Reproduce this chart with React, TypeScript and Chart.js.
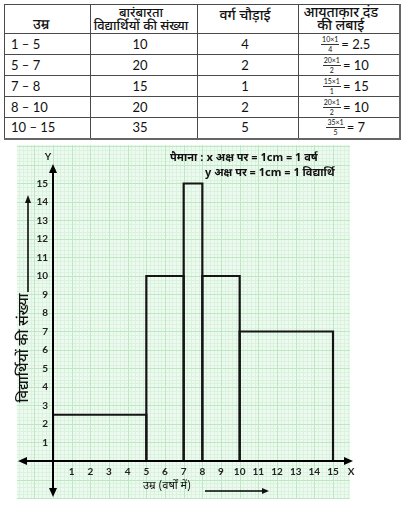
import React, { useEffect, useRef } from "react";
import { Chart, registerables } from "chart.js";

Chart.register(...registerables);

// ---- data ----
const ageClasses = ["1 – 5", "5 – 7", "7 – 8", "8 – 10", "10 – 15"];
const studentCounts = [10, 20, 15, 20, 35];
const classWidths = [4, 2, 1, 2, 5];
const barLengths = [2.5, 10, 15, 10, 7];
// bar edges as drawn on the graph paper
const barStarts = [0, 5, 7, 8, 10];
const barEnds = [5, 7, 8, 10, 15];
const xTickValues = [1, 2, 3, 4, 5, 6, 7, 8, 9, 10, 11, 12, 13, 14, 15];
const yTickValues = [1, 2, 3, 4, 5, 6, 7, 8, 9, 10, 11, 12, 13, 14, 15];

const headers = ["उम्र", "बारंबारता\nविद्यार्थियों की संख्या", "वर्ग चौड़ाई", "आयताकार दंड\nकी लंबाई"];
const scaleLine1 = "पैमाना : x अक्ष पर = 1cm = 1 वर्ष";
const scaleLine2 = "y अक्ष पर = 1cm = 1 विद्यार्थि";
const yTitle = "विद्यार्थियों की संख्या";
const xTitle = "उम्र (वर्षों में)";

const DEV = '"Noto Sans Devanagari", "Noto Sans", "Lato", sans-serif';
const NUM = '"Lato", "Noto Sans", sans-serif';

// graph-paper extent (in axis units)
const paperX = [-1.93, 15.91];
const paperY = [-2.0, 17.08];

function arrowHead(ctx: CanvasRenderingContext2D, tx: number, ty: number, dx: number, dy: number, len: number, half: number) {
  const px = -dy, py = dx;
  ctx.beginPath();
  ctx.moveTo(tx, ty);
  ctx.lineTo(tx - dx * len + px * half, ty - dy * len + py * half);
  ctx.lineTo(tx - dx * len - px * half, ty - dy * len - py * half);
  ctx.closePath();
  ctx.fill();
}

const paperPlugin = {
  id: "paper",
  beforeDraw(chart: any) {
    const { ctx, scales } = chart;
    const X = (v: number) => scales.x.getPixelForValue(v);
    const Y = (v: number) => scales.y.getPixelForValue(v);
    const x0 = Math.round(X(paperX[0])), x1 = Math.round(X(paperX[1]));
    const y0 = Math.round(Y(paperY[1])), y1 = Math.round(Y(paperY[0]));
    ctx.save();
    ctx.fillStyle = "#eefaef";
    ctx.fillRect(x0, y0, x1 - x0, y1 - y0);
    ctx.lineWidth = 1;
    const drawSet = (major: boolean) => {
      ctx.strokeStyle = major ? "#bce8c3" : "#daf3de";
      ctx.beginPath();
      for (let k = Math.ceil(paperX[0] * 5); k <= Math.floor(paperX[1] * 5); k++) {
        if ((k % 5 === 0) !== major) continue;
        const px = Math.round(X(k / 5)) + 0.5;
        ctx.moveTo(px, y0);
        ctx.lineTo(px, y1);
      }
      for (let k = Math.ceil(paperY[0] * 5); k <= Math.floor(paperY[1] * 5); k++) {
        if ((k % 5 === 0) !== major) continue;
        const py = Math.round(Y(k / 5)) + 0.5;
        ctx.moveTo(x0, py);
        ctx.lineTo(x1, py);
      }
      ctx.stroke();
    };
    drawSet(false);
    drawSet(true);
    ctx.restore();
  },
};

const overlayPlugin = {
  id: "overlay",
  afterDatasetsDraw(chart: any) {
    const { ctx, scales } = chart;
    const X = (v: number) => scales.x.getPixelForValue(v);
    const Y = (v: number) => scales.y.getPixelForValue(v);
    ctx.save();
    ctx.strokeStyle = "#000";
    ctx.fillStyle = "#000";
    ctx.lineWidth = 2;
    // y axis
    const ax = X(0), ay = Y(0);
    const yTop = 164, yBot = 497, xLeft = 18, xRight = 353;
    ctx.beginPath();
    ctx.moveTo(ax, yTop + 6);
    ctx.lineTo(ax, yBot - 6);
    ctx.stroke();
    arrowHead(ctx, ax, yTop, 0, -1, 9, 4);
    arrowHead(ctx, ax, yBot, 0, 1, 9, 4);
    // x axis
    ctx.beginPath();
    ctx.moveTo(xLeft + 6, ay);
    ctx.lineTo(xRight - 6, ay);
    ctx.stroke();
    arrowHead(ctx, xLeft, ay, -1, 0, 9, 4);
    arrowHead(ctx, xRight, ay, 1, 0, 9, 4);

    // axis letters
    ctx.fillStyle = "#222";
    ctx.font = `bold 10px ${NUM}`;
    ctx.textAlign = "center";
    ctx.textBaseline = "middle";
    ctx.fillText("Y", 48, 157);
    ctx.fillText("X", 351, 472);

    // scale note
    ctx.fillStyle = "#111";
    ctx.font = `bold 11px ${DEV}`;
    ctx.textAlign = "left";
    ctx.textBaseline = "alphabetic";
    ctx.fillText(scaleLine1, 170, 161);
    ctx.fillText(scaleLine2, 205, 176);

    // x title + arrow
    ctx.font = `11px ${DEV}`;
    ctx.textAlign = "center";
    ctx.textBaseline = "middle";
    ctx.fillText(xTitle, 167, 487);
    ctx.lineWidth = 1.5;
    ctx.beginPath();
    ctx.moveTo(205, 491);
    ctx.lineTo(262, 491);
    ctx.stroke();
    arrowHead(ctx, 269, 491, 1, 0, 7, 3);

    // y title + arrow
    ctx.save();
    ctx.translate(25, 348);
    ctx.rotate(-Math.PI / 2);
    ctx.font = `500 15px ${DEV}`;
    ctx.fillText(yTitle, 0, 0);
    ctx.restore();
    ctx.beginPath();
    ctx.moveTo(28, 292);
    ctx.lineTo(28, 202);
    ctx.stroke();
    arrowHead(ctx, 28, 195, 0, -1, 8, 3);
    ctx.restore();
  },
};

function ChartCanvas() {
  const ref = useRef<HTMLCanvasElement | null>(null);
  useEffect(() => {
    if (!ref.current) return;
    const chart = new Chart(ref.current, {
      type: "scatter",
      data: {
        datasets: barStarts.map((s, i) => ({
          label: ageClasses[i],
          data: [
            { x: s, y: 0 },
            { x: s, y: barLengths[i] },
            { x: barEnds[i], y: barLengths[i] },
            { x: barEnds[i], y: 0 },
          ],
          showLine: true,
          borderColor: "#151515",
          borderWidth: 2.2,
          pointRadius: 0,
          fill: false,
          tension: 0,
        })),
      },
      options: {
        responsive: false,
        animation: false,
        layout: { padding: { top: 145, right: 63, left: 0, bottom: 0 } },
        plugins: { legend: { display: false }, tooltip: { enabled: false } },
        scales: {
          x: {
            type: "linear",
            min: 0,
            max: paperX[1],
            afterBuildTicks: (s: any) => {
              s.ticks = xTickValues.map((v) => ({ value: v }));
            },
            afterFit: (s: any) => {
              s.height = 51;
            },
            grid: { display: false, drawTicks: false },
            border: { display: false },
            ticks: {
              padding: 5,
              autoSkip: false,
              maxRotation: 0,
              color: "#222",
              font: { family: NUM, size: 10, weight: "bold" },
            },
          },
          y: {
            type: "linear",
            min: 0,
            max: paperY[1],
            afterBuildTicks: (s: any) => {
              s.ticks = yTickValues.map((v) => ({ value: v }));
            },
            afterFit: (s: any) => {
              s.width = 53;
            },
            grid: { display: false, drawTicks: false },
            border: { display: false },
            ticks: {
              padding: 5,
              autoSkip: false,
              color: "#222",
              font: { family: NUM, size: 10, weight: "bold" },
            },
          },
        },
      } as any,
      plugins: [paperPlugin, overlayPlugin],
    });
    return () => chart.destroy();
  }, []);
  return <canvas ref={ref} width={413} height={512} style={{ position: "absolute", left: 0, top: 0, width: 413, height: 512 }} />;
}

const cell: React.CSSProperties = {
  border: "1px solid #4a4a4a",
  padding: 0,
  overflow: "hidden",
  boxSizing: "border-box",
  whiteSpace: "nowrap",
};

const bodyCell: React.CSSProperties = {
  ...cell,
  fontFamily: NUM,
  fontSize: 13,
  lineHeight: "19px",
  height: 21,
};

const headCell: React.CSSProperties = {
  ...cell,
  fontFamily: DEV,
  fontWeight: 500,
  fontSize: 14,
  height: 29,
};

function HeadBox({ lines, justify, align, pad }: { lines: string[]; justify: string; align: string; pad: React.CSSProperties }) {
  return (
    <div
      style={{
        height: 28,
        display: "flex",
        flexDirection: "column",
        justifyContent: justify,
        alignItems: align,
        lineHeight: "13px",
        overflow: "visible",
        ...pad,
      }}
    >
      {lines.map((l) => (
        <div key={l} style={{ height: 13 }}>{l}</div>
      ))}
    </div>
  );
}

function Fraction({ num, den }: { num: string; den: string }) {
  return (
    <span style={{ display: "inline-flex", flexDirection: "column", alignItems: "center", fontSize: 7, lineHeight: "7px", marginRight: 2 }}>
      <span style={{ borderBottom: "1px solid #333", padding: "0 1px 1px" }}>{num}</span>
      <span style={{ paddingTop: 1 }}>{den}</span>
    </span>
  );
}

export default function App() {
  const headerLines = headers.map((h) => h.split("\n"));
  return (
    <div style={{ position: "absolute", left: 0, top: 0, width: 413, height: 512, background: "#fff", overflow: "hidden" }}>
      <ChartCanvas />
      <table
        style={{
          position: "absolute",
          left: 4,
          top: 4,
          width: 395,
          tableLayout: "fixed",
          borderCollapse: "collapse",
          zIndex: 1,
          color: "#111",
          borderRight: "2px solid #666",
          borderBottom: "2px solid #666",
          background: "#fff",
        }}
      >
        <colgroup>
          <col style={{ width: 86 }} />
          <col style={{ width: 107 }} />
          <col style={{ width: 101 }} />
          <col style={{ width: 101 }} />
        </colgroup>
        <thead>
          <tr style={{ height: 29 }}>
            <th style={headCell}>
              <HeadBox lines={headerLines[0]} justify="flex-end" align="flex-start" pad={{ paddingLeft: 28, paddingBottom: 1, boxSizing: "border-box" }} />
            </th>
            <th style={{ ...headCell, fontSize: 13 }}>
              <HeadBox lines={headerLines[1]} justify="center" align="center" pad={{ paddingRight: 6, paddingTop: 1, boxSizing: "border-box" }} />
            </th>
            <th style={headCell}>
              <HeadBox lines={headerLines[2]} justify="flex-start" align="center" pad={{ paddingRight: 6, paddingTop: 5, boxSizing: "border-box" }} />
            </th>
            <th style={headCell}>
              <HeadBox lines={headerLines[3]} justify="center" align="center" pad={{ paddingRight: 16, paddingTop: 1, boxSizing: "border-box" }} />
            </th>
          </tr>
        </thead>
        <tbody>
          {ageClasses.map((c, i) => (
            <tr key={c} style={{ height: 21 }}>
              <td style={{ ...bodyCell, paddingLeft: 6 }}>{c}</td>
              <td style={{ ...bodyCell, textAlign: "center", paddingRight: 8 }}>{studentCounts[i]}</td>
              <td style={{ ...bodyCell, textAlign: "center", paddingRight: 6 }}>{classWidths[i]}</td>
              <td style={{ ...bodyCell, paddingRight: 6 }}>
                <div style={{ height: 19, overflow: "hidden", display: "flex", alignItems: "center", justifyContent: "center" }}>
                  <Fraction num={`${studentCounts[i]}×1`} den={String(classWidths[i])} />
                  <span>= {barLengths[i]}</span>
                </div>
              </td>
            </tr>
          ))}
        </tbody>
      </table>
    </div>
  );
}
